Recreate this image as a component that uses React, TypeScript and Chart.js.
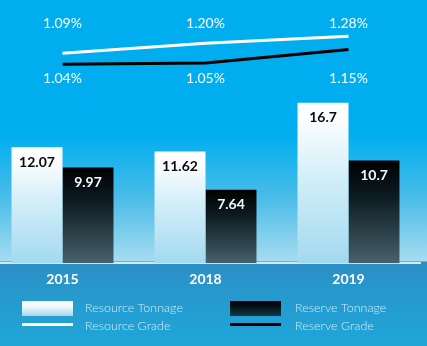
import { useEffect, useRef } from 'react';
import { Chart, registerables } from 'chart.js';

Chart.register(...registerables);

const years = ['2015', '2018', '2019'];
const resourceTonnage = [12.07, 11.62, 16.7];
const reserveTonnage = [9.97, 7.64, 10.7];
const resourceGrade = [1.09, 1.2, 1.28];
const reserveGrade = [1.04, 1.05, 1.15];
const legendLabels = ['Resource Tonnage', 'Resource Grade', 'Reserve Tonnage', 'Reserve Grade'];

const FONT = 'Lato, "Open Sans", sans-serif';
const SHIFT = 9; // canvas starts 9px left of the page

type Stop = [number, string];
const resourceStops: Stop[] = [[0, '#ffffff'], [0.12, '#fbfdfe'], [0.45, '#d4eff9'], [1, '#a2d9ef']];
const reserveStops: Stop[] = [[0, '#000000'], [0.35, '#0d1b21'], [1, '#47616b']];

function barGradient(stops: Stop[]) {
  return (c: any) => {
    const chart = c.chart;
    const area = chart.chartArea;
    if (!area || c.type !== 'data' || !chart.scales.y) return stops[stops.length - 1][1];
    const y = chart.scales.y;
    const top = y.getPixelForValue(c.raw);
    const bottom = y.getPixelForValue(0);
    const g = chart.ctx.createLinearGradient(0, top, 0, bottom);
    stops.forEach(([o, col]) => g.addColorStop(o, col));
    return g;
  };
}

const labelsPlugin = {
  id: 'valueLabels',
  afterDatasetsDraw(chart: any) {
    const ctx = chart.ctx;
    ctx.save();
    ctx.textAlign = 'center';
    ctx.textBaseline = 'middle';
    [0, 1].forEach((di) => {
      const meta = chart.getDatasetMeta(di);
      const data = chart.data.datasets[di].data;
      ctx.font = `bold 14px ${FONT}`;
      ctx.fillStyle = di === 0 ? '#0a0a0a' : '#f2fbff';
      meta.data.forEach((el: any, i: number) => {
        ctx.fillText(String(data[i]), el.x, el.y + 15);
      });
    });
    ctx.font = `14px ${FONT}`;
    ctx.fillStyle = '#ffffff';
    chart.getDatasetMeta(2).data.forEach((el: any, i: number) => {
      ctx.fillText(resourceGrade[i].toFixed(2) + '%', el.x, 23);
    });
    chart.getDatasetMeta(3).data.forEach((el: any, i: number) => {
      ctx.fillText(reserveGrade[i].toFixed(2) + '%', el.x, 78);
    });
    ctx.restore();
  },
};

const legendPlugin = {
  id: 'customLegend',
  afterDraw(chart: any) {
    const ctx = chart.ctx;
    ctx.save();
    const cols = [
      { x: 22 + SHIFT, tx: 85 + SHIFT, stops: [[0, '#ffffff'], [0.4, '#eef8fc'], [1, '#a6d5ea']] as Stop[], line: '#ffffff', t1: legendLabels[0], t2: legendLabels[1] },
      { x: 230 + SHIFT, tx: 295 + SHIFT, stops: [[0, '#000000'], [0.4, '#04131a'], [1, '#12394a']] as Stop[], line: '#000000', t1: legendLabels[2], t2: legendLabels[3] },
    ];
    cols.forEach((c) => {
      const g = ctx.createLinearGradient(0, 301, 0, 316);
      c.stops.forEach(([o, col]) => g.addColorStop(o, col));
      ctx.fillStyle = g;
      ctx.fillRect(c.x, 301, 51, 15);
      ctx.fillStyle = c.line;
      ctx.fillRect(c.x, 323, 51, 3);
      ctx.fillStyle = '#cdeef9';
      ctx.font = `300 12.5px ${FONT}`;
      ctx.textAlign = 'left';
      ctx.textBaseline = 'middle';
      ctx.fillText(c.t1, c.tx, 308);
      ctx.fillText(c.t2, c.tx, 326);
    });
    ctx.restore();
  },
};

export default function App() {
  const ref = useRef<HTMLCanvasElement | null>(null);
  useEffect(() => {
    document.body.style.margin = '0';
    if (!ref.current) return;
    const chart = new Chart(ref.current, {
      type: 'bar',
      data: {
        labels: years,
        datasets: [
          {
            type: 'bar',
            label: 'Resource Tonnage',
            data: resourceTonnage,
            backgroundColor: barGradient(resourceStops),
            borderWidth: 0,
            categoryPercentage: 0.713,
            barPercentage: 1,
            yAxisID: 'y',
            order: 2,
          },
          {
            type: 'bar',
            label: 'Reserve Tonnage',
            data: reserveTonnage,
            backgroundColor: barGradient(reserveStops),
            borderWidth: 0,
            categoryPercentage: 0.713,
            barPercentage: 1,
            yAxisID: 'y',
            order: 2,
          },
          {
            type: 'line',
            label: 'Resource Grade',
            data: resourceGrade,
            borderColor: '#ffffff',
            borderWidth: 3,
            pointRadius: 0,
            tension: 0,
            yAxisID: 'yRes',
            order: 1,
          },
          {
            type: 'line',
            label: 'Reserve Grade',
            data: reserveGrade,
            borderColor: '#000000',
            borderWidth: 3,
            pointRadius: 0,
            tension: 0,
            yAxisID: 'yRsv',
            order: 1,
          },
        ] as any,
      },
      options: {
        animation: false,
        responsive: true,
        maintainAspectRatio: false,
        layout: { padding: { left: 0, right: 7, top: 0, bottom: 50 } },
        plugins: { legend: { display: false }, tooltip: { enabled: false } },
        scales: {
          x: {
            offset: true,
            grid: { display: false, drawTicks: false },
            border: { display: true, color: '#cdeaf5', width: 2 },
            ticks: { color: '#ffffff', font: { family: FONT, size: 14, weight: 'bold' }, padding: 8 },
          },
          y: { display: false, min: 0, max: 27.4 },
          yRes: { display: false, min: -1.245, max: 1.682 },
          yRsv: { display: false, min: -0.442, max: 1.519 },
        },
      } as any,
      plugins: [labelsPlugin, legendPlugin],
    });
    return () => chart.destroy();
  }, []);
  return (
    <div
      style={{
        position: 'relative',
        width: 427,
        height: 346,
        overflow: 'hidden',
        background:
          'linear-gradient(to bottom, #00aeef 0px, #00aeef 135px, #4dbde8 200px, #a6dcf0 261px, #2b8ec4 262px, #2798cc 290px, #1fa6d9 346px)',
      }}
    >
      <div style={{ position: 'absolute', left: -SHIFT, top: 0, width: 427 + SHIFT, height: 346 }}>
        <canvas ref={ref} />
      </div>
    </div>
  );
}
